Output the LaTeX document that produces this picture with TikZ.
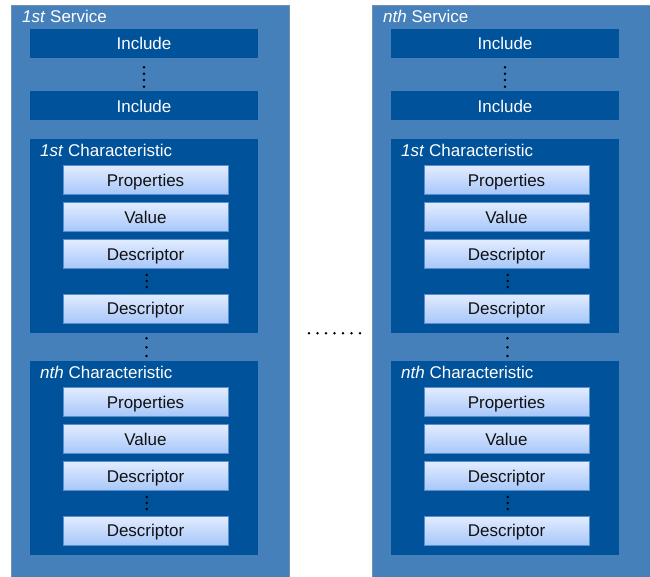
\documentclass[tikz,border=0pt]{standalone}
\usepackage{fontspec}
\setmainfont{Liberation Sans}
\definecolor{svcfill}{HTML}{4680BA}
\definecolor{svcedge}{HTML}{7290B2}
\definecolor{darkfill}{HTML}{00529B}
\definecolor{celltop}{HTML}{E2ECFF}
\definecolor{cellbot}{HTML}{A7C7F9}
\definecolor{celledge}{HTML}{5C8DCF}
\definecolor{celltext}{HTML}{111111}

\tikzset{
  box/.style={rectangle, inner sep=0pt, outer sep=0pt, anchor=north west},
  servicebox/.style={box, draw=svcedge, fill=svcfill, line width=0.8pt,
    minimum width=278pt, minimum height=580pt},
  darkbox/.style={box, fill=darkfill, minimum width=228pt},
  labeltext/.style={font=\fontsize{17}{20}\selectfont, text height=12.2pt,
    text depth=0pt},
  includebox/.style={darkbox, labeltext, minimum height=29pt, text=white},
  charbox/.style={darkbox, minimum height=194pt},
  cell/.style={box, labeltext, draw=celledge, line width=1pt, top color=celltop,
    bottom color=cellbot, minimum width=165pt, minimum height=29pt,
    text=celltext},
  title/.style={anchor=base west, inner sep=0pt, text=white,
    font=\fontsize{17}{20}\selectfont},
  dot/.style={circle, fill=black, inner sep=0pt, minimum size=2.8pt},
}

\begin{document}
\begin{tikzpicture}[x=1pt, y=-1pt]
  \useasboundingbox (0,0) rectangle (650,577);

  \foreach \k/\dx/\nm in {a/0/1st, b/361/nth} {
    \begin{scope}[xshift=\dx pt]
      % service container
      \node[servicebox] (svc-\k) at (11,5) {};
      \node[title] (svctitle-\k) at (22,22.3) {\textit{\nm} Service};

      % include declarations
      \node[includebox] (inc1-\k) at (30,29) {Include};
      \node[includebox] (inc2-\k) at (30,91.5) {Include};
      \foreach \y [count=\i] in {67.3,73.7,80,86.7}
        \node[dot] (incdot\i-\k) at (144,\y) {};

      % characteristics
      \foreach \c/\T/\cn in {1/139/1st, 2/361/nth} {
        \node[charbox] (chr\c-\k) at (30,\T) {};
        \node[title] (chrtitle\c-\k) at (40,\T+17.7) {\textit{\cn} Characteristic};
        \node[cell] (prop\c-\k) at (63,\T+26.5) {Properties};
        \node[cell] (val\c-\k)  at (63,\T+63.5) {Value};
        \node[cell] (descA\c-\k) at (63,\T+100.5) {Descriptor};
        \node[cell] (descB\c-\k) at (63,\T+155) {Descriptor};
        \foreach \d [count=\i] in {136,142,148}
          \node[dot] (descdot\i-\c-\k) at (146.7,\T+\d) {};
      }

      % ellipsis between the characteristics
      \foreach \y [count=\i] in {338.3,347.3,356}
        \node[dot] (chrdot\i-\k) at (146.5,\y) {};
    \end{scope}
  }

  % ellipsis between the services
  \foreach \i in {0,...,6}
    \node[dot] (svcdot\i) at (309+8.5*\i,333.3) {};
\end{tikzpicture}
\end{document}
